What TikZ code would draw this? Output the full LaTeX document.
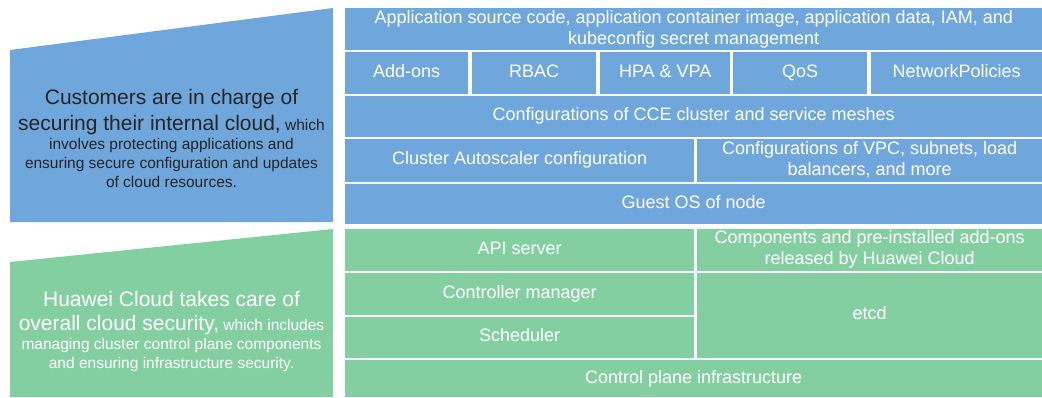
\documentclass[tikz,border=0pt]{standalone}
\usepackage{fontspec}
\setmainfont{Liberation Sans}
\definecolor{custblue}{HTML}{6FA6DC}
\definecolor{hwgreen}{HTML}{84CFA1}
\definecolor{darktext}{HTML}{262626}
\newcommand{\headfont}{\fontsize{21}{24}\selectfont}
\newcommand{\bodyfont}{\fontsize{15.5}{19}\selectfont}
\newcommand{\cellstrut}{\rule[-4pt]{0pt}{17pt}}
\tikzset{
  cell/.style={anchor=north west, inner sep=0pt, align=center, text=white,
    font=\fontsize{18}{21}\selectfont,
    execute at begin node=\cellstrut, execute at end node=\cellstrut},
  bcell/.style={cell, fill=custblue},
  gcell/.style={cell, fill=hwgreen},
  side/.style={align=center, font=\bodyfont},
}
\begin{document}
\begin{tikzpicture}[x=1pt,y=-1pt]
  \useasboundingbox (0,0) rectangle (1042,397);

  % left panels
  \fill[custblue] (10,50) -- (333,8) -- (333,222) -- (10,222) -- cycle;
  \fill[hwgreen] (10,262) -- (333,229) -- (333,397) -- (10,397) -- cycle;
  \node[side, text=darktext] (custtxt) at (171.5,138.5)
    {{\headfont Customers are in charge of}\\[5pt]{\headfont securing their internal cloud,} which\\involves protecting applications and\\ensuring secure configuration and updates\\of cloud resources.};
  \node[side, text=white] (hwtxt) at (171.5,331.5)
    {{\headfont Huawei Cloud takes care of}\\[5pt]{\headfont overall cloud security,} which includes\\managing cluster control plane components\\and ensuring infrastructure security.};

  % customer stack
  \node[bcell, minimum width=697pt, minimum height=42pt] (appsrc) at (345,8)
    {Application source code, application container image, application data, IAM, and\\kubeconfig secret management};
  \node[bcell, minimum width=123pt, minimum height=41.5pt] (addons) at (345,52) {Add-ons};
  \node[bcell, minimum width=124pt, minimum height=41.5pt] (rbac) at (472,52) {RBAC};
  \node[bcell, minimum width=130pt, minimum height=41.5pt] (hpa) at (600,52) {HPA \& VPA};
  \node[bcell, minimum width=134pt, minimum height=41.5pt] (qos) at (733,52) {QoS};
  \node[bcell, minimum width=171pt, minimum height=41.5pt] (netpol) at (871,52) {NetworkPolicies};
  \node[bcell, minimum width=697pt, minimum height=41.5pt] (cceconf) at (345,95.5)
    {Configurations of CCE cluster and service meshes};
  \node[bcell, minimum width=349pt, minimum height=42.5pt] (autoscale) at (345,139)
    {Cluster Autoscaler configuration};
  \node[bcell, minimum width=345pt, minimum height=42.5pt] (vpcconf) at (697,139)
    {Configurations of VPC, subnets, load\\balancers, and more};
  \node[bcell, minimum width=697pt, minimum height=40.5pt] (guestos) at (345,183.5)
    {Guest OS of node};

  % huawei cloud stack
  \node[gcell, minimum width=349pt, minimum height=41.5pt] (apisrv) at (345,229) {API server};
  \node[gcell, minimum width=345pt, minimum height=41.5pt] (addcomp) at (697,229)
    {Components and pre-installed add-ons\\released by Huawei Cloud};
  \node[gcell, minimum width=349pt, minimum height=42pt] (ctrlmgr) at (345,272.5) {Controller manager};
  \node[gcell, minimum width=349pt, minimum height=41.5pt] (sched) at (345,316.5) {Scheduler};
  \node[gcell, minimum width=345pt, minimum height=85.5pt] (etcd) at (697,272.5) {etcd};
  \node[gcell, minimum width=697pt, minimum height=37pt] (cpinfra) at (345,360)
    {Control plane infrastructure};
\end{tikzpicture}
\end{document}
